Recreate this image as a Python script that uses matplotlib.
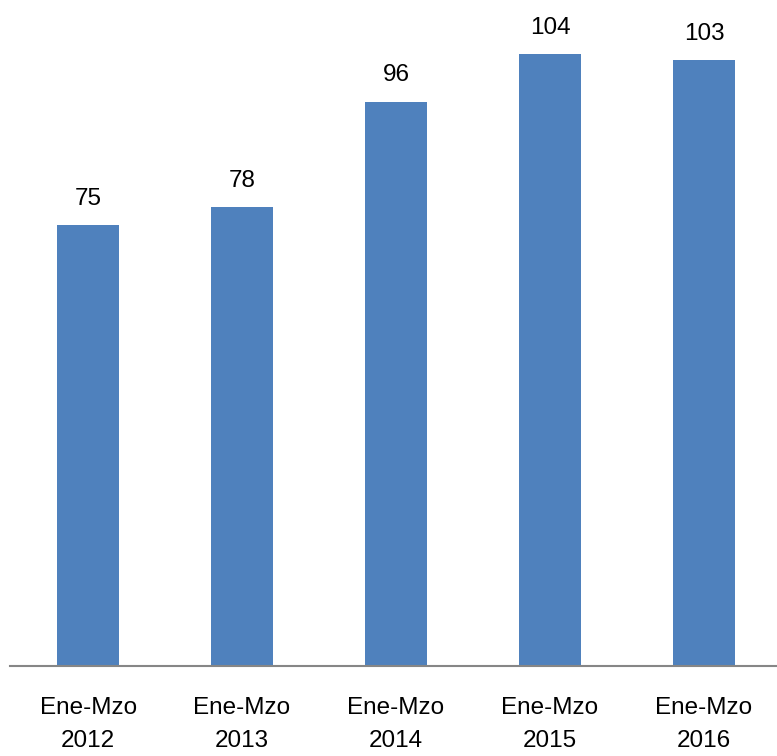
import matplotlib
matplotlib.use("Agg")
import matplotlib.pyplot as plt

categories = ["Ene-Mzo\n2012", "Ene-Mzo\n2013", "Ene-Mzo\n2014", "Ene-Mzo\n2015", "Ene-Mzo\n2016"]
values = [75, 78, 96, 104, 103]

plt.rcParams['font.family'] = ['Liberation Sans', 'DejaVu Sans']

fig = plt.figure(figsize=(7.77, 7.56), dpi=100)
ax = fig.add_axes([10/777, 1 - 666/756, 767/777, 666/756])

x = list(range(len(categories)))
bars = ax.bar(x, values, width=0.40, color='#4F81BD', zorder=2)
for xi, v in zip(x, values):
    ax.annotate(str(v), (xi, v), xytext=(0, 11), textcoords='offset points',
                ha='center', va='bottom', fontsize=17.5, color='#000000')

ax.set_xlim(-0.507, 4.474)
ax.set_ylim(0, 666/5.88)
ax.set_xticks(x)
ax.set_xticklabels(categories, fontsize=17.5, linespacing=1.68)
ax.tick_params(axis='x', length=0, pad=22)
ax.set_yticks([])
for s in ['top', 'right', 'left']:
    ax.spines[s].set_visible(False)
ax.spines['bottom'].set_color('#868686')
ax.spines['bottom'].set_linewidth(1.5)

fig.savefig('out.png', dpi=100)
